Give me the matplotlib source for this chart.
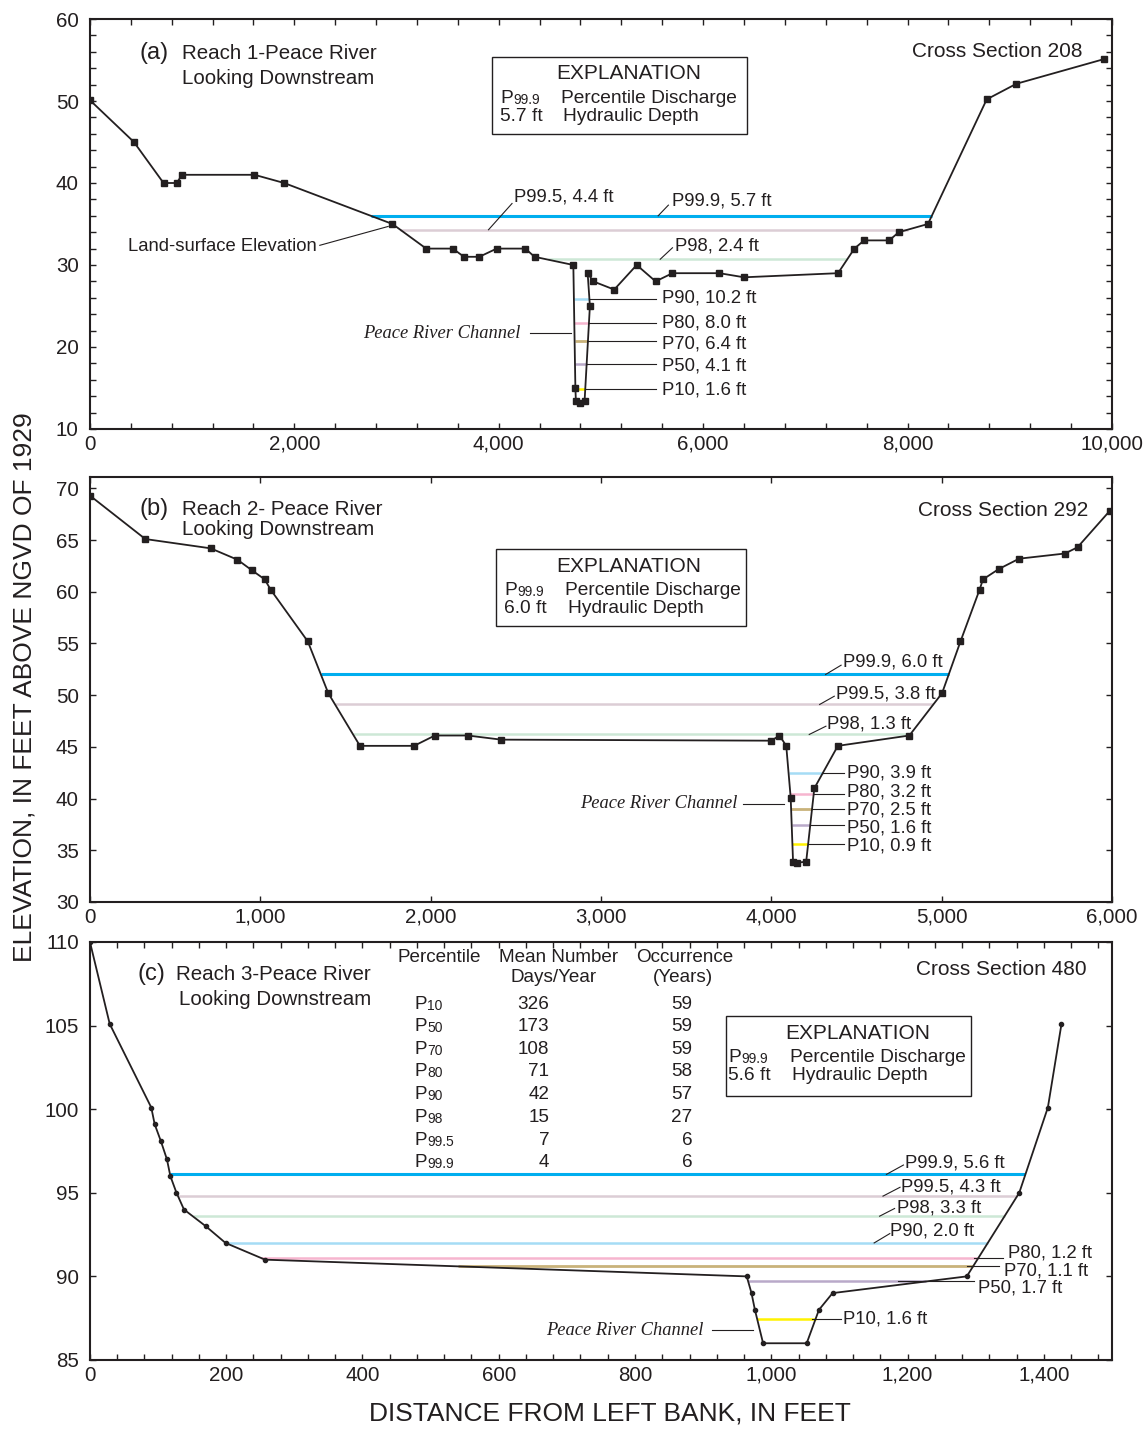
import matplotlib.pyplot as plt
from matplotlib.patches import Rectangle
from matplotlib.ticker import MultipleLocator, StrMethodFormatter

plt.rcParams['font.family'] = ['Liberation Sans', 'DejaVu Sans']
INK = '#231f20'
plt.rcParams['text.color'] = INK

# ---------------- data ----------------
# ground profiles: distance from left bank (ft), elevation (ft above NGVD 1929)
xs_208 = [0, 430, 720, 850, 900, 1610, 1900, 2960, 3290, 3550, 3660, 3810, 3980, 4260,
          4350, 4730, 4750, 4755, 4800, 4840, 4892, 4870, 4925, 5130, 5350, 5535, 5700,
          6160, 6400, 7320, 7480, 7575, 7820, 7915, 8200, 8775, 9065, 9920]
z_208 = [50.1, 45.0, 40.0, 40.0, 41.0, 41.0, 40.0, 35.0, 32.0, 32.0, 31.0, 31.0, 32.0, 32.0,
         31.0, 30.0, 15.0, 13.4, 13.2, 13.4, 25.0, 29.0, 28.0, 27.0, 30.0, 28.0, 29.0,
         29.0, 28.5, 29.0, 32.0, 33.0, 33.0, 34.0, 35.0, 50.2, 52.1, 55.1]

xs_292 = [0, 325, 709, 866, 949, 1026, 1061, 1279, 1399, 1585, 1903, 2025, 2218, 2414,
          4001, 4048, 4088, 4114, 4128, 4153, 4205, 4253, 4391, 4811, 5003, 5111, 5223,
          5243, 5336, 5455, 5724, 5798, 5986]
z_292 = [69.3, 65.1, 64.2, 63.1, 62.1, 61.2, 60.2, 55.2, 50.2, 45.1, 45.1, 46.1, 46.1, 45.7,
         45.6, 46.1, 45.1, 40.1, 33.9, 33.8, 33.9, 41.0, 45.1, 46.1, 50.2, 55.2, 60.2,
         61.2, 62.2, 63.2, 63.7, 64.3, 67.8]

xs_480 = [0, 29, 90, 95, 104, 113, 118, 127, 138, 170, 199, 257, 964, 971, 976, 988,
          1052, 1070, 1090, 1287, 1364, 1406, 1426]
z_480 = [110.0, 105.1, 100.1, 99.1, 98.1, 97.0, 96.0, 95.0, 94.0, 93.0, 92.0, 91.0,
         90.0, 89.0, 88.0, 86.0, 86.0, 88.0, 89.0, 90.0, 95.0, 100.1, 105.1]

pct_names = ['P99.9', 'P99.5', 'P98', 'P90', 'P80', 'P70', 'P50', 'P10']

# water surface elevation and wetted extent (left / right end) for each percentile
ws_208 = [36.0, 34.3, 30.7, 25.9, 22.9, 20.7, 17.9, 14.9]
x0_208 = [2750, 3037, 4480, 4736, 4740, 4742, 4746, 4750]
x1_208 = [8238, 8000, 7410, 4887, 4882, 4873, 4860, 4847]
depth_208 = [5.7, 4.4, 2.4, 10.2, 8.0, 6.4, 4.1, 1.6]

ws_292 = [52.0, 49.1, 46.2, 42.5, 40.4, 39.0, 37.4, 35.6]
x0_292 = [1356, 1439, 1545, 4102, 4112, 4117, 4120, 4124]
x1_292 = [5042, 4951, 4816, 4303, 4249, 4240, 4229, 4217]
depth_292 = [6.0, 3.8, 1.3, 3.9, 3.2, 2.5, 1.6, 0.9]

ws_480 = [96.1, 94.8, 93.6, 92.0, 91.1, 90.6, 89.7, 87.45]
x0_480 = [117.5, 129.5, 151, 199, 251, 540, 966, 979]
x1_480 = [1373, 1361, 1343, 1318, 1304, 1296, 1227, 1065]
depth_480 = [5.6, 4.3, 3.3, 2.0, 1.2, 1.1, 1.7, 1.6]

# table in panel (c)
tbl_pct = ['10', '50', '70', '80', '90', '98', '99.5', '99.9']
tbl_days = [326, 173, 108, 71, 42, 15, 7, 4]
tbl_years = [59, 59, 59, 58, 57, 27, 6, 6]

# line styles for the percentile water surfaces
pct_colors = ['#00aeef', '#dccdd5', '#cde8d6', '#a5dcf5', '#f6b5cf', '#c9b27a', '#b9a9c9', '#fff200']
pct_widths = [2.2, 1.8, 1.8, 1.8, 1.8, 2.0, 1.8, 1.8]

FS_HEAD = 15
FS_LAB = 13.3
FS_BOX = 13.8


def style_axis(ax, xlim, ylim, xmaj, xmin, ymaj, ymin):
    ax.set_xlim(*xlim)
    ax.set_ylim(*ylim)
    ax.xaxis.set_major_locator(MultipleLocator(xmaj))
    ax.yaxis.set_major_locator(MultipleLocator(ymaj))
    if xmin:
        ax.xaxis.set_minor_locator(MultipleLocator(xmin))
    if ymin:
        ax.yaxis.set_minor_locator(MultipleLocator(ymin))
    ax.xaxis.set_major_formatter(StrMethodFormatter('{x:,.0f}'))
    ax.tick_params(which='both', direction='in', top=True, right=True,
                   length=4.5, width=1.0, colors=INK, labelsize=14.8)
    ax.tick_params(axis='x', pad=4)
    ax.tick_params(axis='y', pad=8)
    for s in ax.spines.values():
        s.set_linewidth(1.5)
        s.set_color(INK)


def draw_section(ax, xs, zs, ws, x0, x1, marker, ms):
    for lev, a, b, col, lw in zip(ws, x0, x1, pct_colors, pct_widths):
        ax.plot([a, b], [lev, lev], color=col, lw=lw, solid_capstyle='butt', zorder=2)
    ax.plot(xs, zs, color=INK, lw=1.3, marker=marker, ms=ms, mfc=INK, mec=INK, zorder=4)


def leader(ax, xa, ya, xb, yb, text, tx, ty):
    ax.plot([xa, xb], [ya, yb], color=INK, lw=0.8, zorder=3)
    ax.text(tx, ty, text, ha='left', va='center', fontsize=FS_LAB)


def p_sub(ax, x, y, digits, size, subsize):
    t = ax.text(x, y, 'P', ha='left', va='center', fontsize=size)
    ax.annotate(digits, xy=(1, 0), xycoords=t, xytext=(0.4, 0), textcoords='offset points',
                ha='left', va='bottom', fontsize=subsize)


def explanation(ax, box, title_xy, rows_y, px, dx, depth):
    x0, y0, x1, y1 = box
    ax.add_patch(Rectangle((x0, y0), x1 - x0, y1 - y0, fill=False, ec=INK, lw=1.0, zorder=5))
    ax.text(title_xy[0], title_xy[1], 'EXPLANATION', ha='center', va='center', fontsize=FS_HEAD)
    p_sub(ax, px, rows_y[0], '99.9', FS_BOX, 10)
    ax.text(dx[0], rows_y[0], 'Percentile Discharge', ha='left', va='center', fontsize=FS_BOX)
    ax.text(px, rows_y[1], f'{depth:.1f} ft', ha='left', va='center', fontsize=FS_BOX)
    ax.text(dx[1], rows_y[1], 'Hydraulic Depth', ha='left', va='center', fontsize=FS_BOX)


def lab(i, depths):
    return f'{pct_names[i]}, {depths[i]:.1f} ft'


fig = plt.figure(figsize=(11.43, 14.29), dpi=100)
L, W = 0.0787, 0.8941
ax1 = fig.add_axes([L, 0.6998, W, 0.2869])
ax2 = fig.add_axes([L, 0.3688, W, 0.2974])
ax3 = fig.add_axes([L, 0.0483, W, 0.2925])

# ================= (a) Cross section 208 =================
draw_section(ax1, xs_208, z_208, ws_208, x0_208, x1_208, 's', 4.3)
style_axis(ax1, (0, 10000), (10, 60), 2000, 400, 10, 2)

leader(ax1, 5560, ws_208[0], 5660, 37.3, lab(0, depth_208), 5700, 37.8)
leader(ax1, 3900, ws_208[1], 4130, 37.5, lab(1, depth_208), 4150, 38.3)
leader(ax1, 5580, ws_208[2], 5700, 32.1, lab(2, depth_208), 5720, 32.3)
for i, ty in zip(range(3, 8), [26.0, 22.9, 20.4, 17.7, 14.7]):
    leader(ax1, x1_208[i], ws_208[i], 5535, ws_208[i], lab(i, depth_208), 5600, ty)

ax1.plot([2249, 2918], [32.4, 34.7], color=INK, lw=0.8)
ax1.text(2216, 32.3, 'Land-surface Elevation', ha='right', va='center', fontsize=FS_LAB)
ax1.plot([4308, 4710], [21.75, 21.75], color=INK, lw=0.8)
ax1.text(4215, 21.7, 'Peace River Channel', ha='right', va='center', fontsize=13.3,
         family='Liberation Serif', style='italic')

ax1.text(480, 55.8, '(a)', ha='left', va='center', fontsize=17)
ax1.text(900, 55.8, 'Reach 1-Peace River', ha='left', va='center', fontsize=14.8)
ax1.text(900, 52.8, 'Looking Downstream', ha='left', va='center', fontsize=14.8)
ax1.text(9716, 56.05, 'Cross Section 208', ha='right', va='center', fontsize=FS_HEAD)
explanation(ax1, (3930, 45.98, 6433, 55.35), (5274, 53.4), (50.34, 48.1), 4012,
            (4609, 4633), depth_208[0])

# ================= (b) Cross section 292 =================
draw_section(ax2, xs_292, z_292, ws_292, x0_292, x1_292, 's', 4.3)
style_axis(ax2, (0, 6000), (30, 71.1), 1000, None, 5, None)

leader(ax2, 4319, ws_292[0], 4410, 52.9, lab(0, depth_292), 4420, 53.2)
leader(ax2, 4284, ws_292[1], 4370, 49.9, lab(1, depth_292), 4380, 50.1)
leader(ax2, 4223, ws_292[2], 4321, 47.0, lab(2, depth_292), 4330, 47.2)
for i, ty in zip(range(3, 8), [42.5, 40.65, 38.9, 37.2, 35.45]):
    leader(ax2, x1_292[i], ws_292[i], 4428, ws_292[i], lab(i, depth_292), 4447, ty)

ax2.plot([3835, 4077], [39.5, 39.5], color=INK, lw=0.8)
ax2.text(3803, 39.5, 'Peace River Channel', ha='right', va='center', fontsize=13.3,
         family='Liberation Serif', style='italic')

ax2.text(288, 68.0, '(b)', ha='left', va='center', fontsize=17)
ax2.text(540, 68.0, 'Reach 2- Peace River', ha='left', va='center', fontsize=14.8)
ax2.text(540, 66.0, 'Looking Downstream', ha='left', va='center', fontsize=14.8)
ax2.text(5860, 67.9, 'Cross Section 292', ha='right', va='center', fontsize=FS_HEAD)
explanation(ax2, (2384, 56.69, 3854, 64.16), (3165, 62.4), (60.1, 58.4), 2431,
            (2789, 2807), depth_292[0])

# ================= (c) Cross section 480 =================
draw_section(ax3, xs_480, z_480, ws_480, x0_480, x1_480, 'o', 3.0)
style_axis(ax3, (0, 1500), (85, 110), 200, 40, 5, None)

leader(ax3, 1169, ws_480[0], 1194, 96.66, lab(0, depth_480), 1196, 96.76)
leader(ax3, 1164, ws_480[1], 1189, 95.33, lab(1, depth_480), 1190, 95.37)
leader(ax3, 1159, ws_480[2], 1181, 94.06, lab(2, depth_480), 1184, 94.1)
leader(ax3, 1151, ws_480[3], 1174, 92.56, lab(3, depth_480), 1175, 92.72)
leader(ax3, 1298, ws_480[4], 1340, ws_480[4], lab(4, depth_480), 1348, 91.37)
leader(ax3, 1288, ws_480[5], 1335, ws_480[5], lab(5, depth_480), 1342, 90.3)
leader(ax3, 1186, ws_480[6], 1298, ws_480[6], lab(6, depth_480), 1303, 89.28)
leader(ax3, 1060, ws_480[7], 1102, ws_480[7], lab(7, depth_480), 1106, 87.44)

ax3.plot([913, 973], [86.8, 86.8], color=INK, lw=0.8)
ax3.text(901, 86.76, 'Peace River Channel', ha='right', va='center', fontsize=13.3,
         family='Liberation Serif', style='italic')

ax3.text(70, 108.07, '(c)', ha='left', va='center', fontsize=17)
ax3.text(127, 108.07, 'Reach 3-Peace River', ha='left', va='center', fontsize=14.8)
ax3.text(131, 106.54, 'Looking Downstream', ha='left', va='center', fontsize=14.8)
ax3.text(1463, 108.34, 'Cross Section 480', ha='right', va='center', fontsize=FS_HEAD)
explanation(ax3, (934, 100.76, 1293, 105.57), (1127, 104.55), (103.1, 101.99), 937,
            (1028, 1031), depth_480[0])

# percentile table
FS_TBL = 13.6
ax3.text(513, 109.06, 'Percentile', ha='center', va='center', fontsize=FS_TBL)
ax3.text(688, 109.06, 'Mean Number', ha='center', va='center', fontsize=FS_TBL)
ax3.text(681, 107.87, 'Days/Year', ha='center', va='center', fontsize=FS_TBL)
ax3.text(873, 109.06, 'Occurrence', ha='center', va='center', fontsize=FS_TBL)
ax3.text(871, 107.87, '(Years)', ha='center', va='center', fontsize=FS_TBL)
row_y = [106.29, 104.96, 103.59, 102.24, 100.9, 99.49, 98.14, 96.8]
for p, d, yv, ry in zip(tbl_pct, tbl_days, tbl_years, row_y):
    p_sub(ax3, 476, ry, p, FS_TBL, 10)
    ax3.text(674, ry, str(d), ha='right', va='center', fontsize=FS_TBL)
    ax3.text(884, ry, str(yv), ha='right', va='center', fontsize=FS_TBL)

fig.text(0.021, 0.519, 'ELEVATION, IN FEET ABOVE NGVD OF 1929', rotation=90,
         ha='center', va='center', fontsize=19)
fig.text(0.534, 0.0105, 'DISTANCE FROM LEFT BANK, IN FEET', ha='center', va='center',
         fontsize=19)

fig.savefig('out.png', dpi=100, facecolor='white')
